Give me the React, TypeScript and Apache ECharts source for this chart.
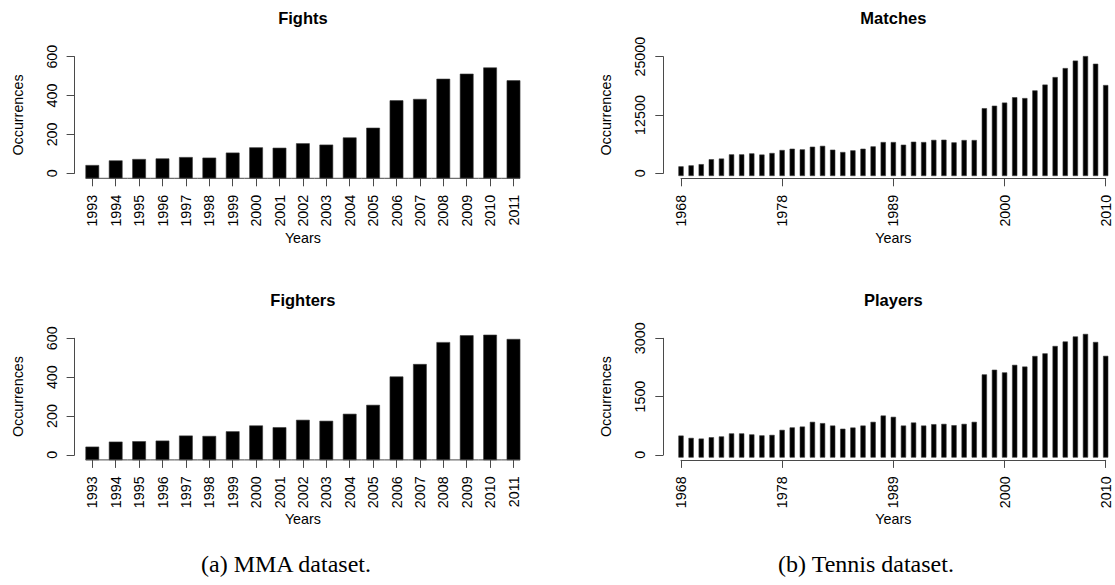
import React, { useEffect, useRef } from "react";
import * as echarts from "echarts";

// ---------- data ----------
const mmaYears = ["1993", "1994", "1995", "1996", "1997", "1998", "1999", "2000", "2001", "2002",
  "2003", "2004", "2005", "2006", "2007", "2008", "2009", "2010", "2011"];
const fights = [41, 65, 72, 75, 82, 79, 105, 132, 130, 153, 146, 183, 233, 374, 381, 485, 511, 543, 477];
const fighters = [41, 67, 69, 72, 98, 96, 120, 150, 141, 179, 174, 210, 256, 402, 466, 579, 614, 617, 595];
const mmaYTicks = [0, 200, 400, 600];

const tennisYears = ["1968", "1969", "1970", "1971", "1972", "1973", "1974", "1975", "1976", "1977",
  "1978", "1979", "1980", "1981", "1982", "1983", "1984", "1985", "1986", "1987",
  "1988", "1989", "1990", "1991", "1992", "1993", "1994", "1995", "1996", "1997",
  "1998", "1999", "2000", "2001", "2002", "2003", "2004", "2005", "2006", "2007",
  "2008", "2009", "2010"];
const tennisTickYears = ["1968", "1978", "1989", "2000", "2010"];
const matches = [1430, 1640, 1900, 2960, 3100, 4000, 4000, 4210, 3960, 4290,
  4930, 5210, 5070, 5640, 5820, 5000, 4500, 4860, 5210, 5710,
  6640, 6640, 6070, 6710, 6640, 7100, 7140, 6570, 7070, 7070,
  13900, 14430, 15100, 16250, 16070, 17710, 18960, 20570, 22500, 24100,
  25070, 23430, 18860];
const matchesYTicks = [0, 12500, 25000];
const players = [490, 430, 413, 447, 468, 546, 546, 520, 495, 507,
  636, 700, 722, 843, 810, 748, 666, 697, 748, 843,
  1006, 972, 748, 826, 748, 783, 791, 757, 791, 843,
  2064, 2184, 2115, 2309, 2266, 2537, 2605, 2795, 2911, 3040,
  3105, 2898, 2541];
const playersYTicks = [0, 1500, 3000];

const titles = ["Fights", "Fighters", "Matches", "Players"];
const captions = ["(a) MMA dataset.", "(b) Tennis dataset."];
const xName = "Years";
const yName = "Occurrences";

// ---------- style ----------
const FONT = "'Liberation Sans', Arial, Helvetica, sans-serif";
const SERIF = "'Liberation Serif', 'Times New Roman', serif";
const AXIS = "#4a4a4a";
const TICK_FS = 14.3;
const PLOT_H = 116.6;
const ROW_TOPS = [56.7, 338.3];

type Panel = {
  title: string;
  cats: string[];
  values: number[];
  yTicks: number[];
  tickCats: string[] | null;
  left: number;
  width: number;
  top: number;
  barRatio: number;
  drop: number;
  yOffset: number;
  boundaryGap: boolean;
  baseLine: boolean;
};

const mmaGeom = { left: 80.6, width: 444.6, barRatio: 0.56, drop: 5, yOffset: 6, boundaryGap: true, baseLine: true };
const tenGeom = { left: 681, width: 424.7, barRatio: 0.46, drop: 2.4, yOffset: 17.7, boundaryGap: false, baseLine: false };

const panels: Panel[] = [
  { title: titles[0], cats: mmaYears, values: fights, yTicks: mmaYTicks, tickCats: null, top: ROW_TOPS[0], ...mmaGeom },
  { title: titles[1], cats: mmaYears, values: fighters, yTicks: mmaYTicks, tickCats: null, top: ROW_TOPS[1], ...mmaGeom },
  { title: titles[2], cats: tennisYears, values: matches, yTicks: matchesYTicks, tickCats: tennisTickYears, top: ROW_TOPS[0], ...tenGeom },
  { title: titles[3], cats: tennisYears, values: players, yTicks: playersYTicks, tickCats: tennisTickYears, top: ROW_TOPS[1], ...tenGeom },
];

function buildOption(): any {
  const labelText = { fontSize: TICK_FS, color: "#000", fontFamily: FONT };
  return {
    animation: false,
    backgroundColor: "#ffffff",
    grid: panels.map((p) => ({ left: p.left, top: p.top, width: p.width, height: PLOT_H, containLabel: false })),
    xAxis: panels.map((p, i) => {
      const interval = p.tickCats
        ? (_idx: number, val: string) => (p.tickCats as string[]).includes(val)
        : 0;
      return {
        type: "category",
        gridIndex: i,
        data: p.cats,
        boundaryGap: p.boundaryGap,
        offset: 5,
        axisLine: { show: !p.baseLine, onZero: false, lineStyle: { color: AXIS, width: 1 } },
        axisTick: { show: true, length: 8, alignWithLabel: true, interval, lineStyle: { color: AXIS, width: 1 } },
        axisLabel: { rotate: 90, margin: 16.5, interval, ...labelText },
        splitLine: { show: false },
        name: xName,
        nameLocation: "middle",
        nameGap: 51,
        nameTextStyle: { ...labelText },
      };
    }),
    yAxis: panels.map((p, i) => ({
      type: "value",
      gridIndex: i,
      position: "left",
      min: p.yTicks[0],
      max: p.yTicks[p.yTicks.length - 1],
      interval: p.yTicks[1] - p.yTicks[0],
      offset: p.yOffset,
      axisLine: { show: true, onZero: false, lineStyle: { color: AXIS, width: 1 } },
      axisTick: { show: true, length: 8, lineStyle: { color: AXIS, width: 1 } },
      axisLabel: { rotate: 90, margin: 16, formatter: (v: number) => String(v), ...labelText },
      splitLine: { show: false },
      name: yName,
      nameLocation: "middle",
      nameGap: 50,
      nameTextStyle: { ...labelText },
    })),
    series: panels.map((p, i) => ({
      type: "custom",
      xAxisIndex: i,
      yAxisIndex: i,
      clip: false,
      silent: true,
      data: p.values.map((v, j) => [j, v]),
      encode: { x: 0, y: 1 },
      renderItem: (_params: any, api: any) => {
        const j = api.value(0) as number;
        const v = api.value(1) as number;
        const top = api.coord([j, v]);
        const zero = api.coord([j, 0]);
        const band = (api.size([1, 0]) as number[])[0];
        const bw = band * p.barRatio;
        const bottom = zero[1] + p.drop;
        const children: any[] = [
          {
            type: "rect",
            shape: { x: top[0] - bw / 2, y: top[1], width: bw, height: bottom - top[1] },
            style: { fill: "#000", stroke: "#3a3a3a", lineWidth: 0.6 },
          },
        ];
        if (p.baseLine) {
          const last = p.values.length - 1;
          const x0 = j === 0 ? top[0] - bw / 2 : top[0] - band / 2;
          const x1 = j === last ? top[0] + bw / 2 : top[0] + band / 2;
          children.push({
            type: "line",
            shape: { x1: x0, y1: bottom, x2: x1, y2: bottom },
            style: { stroke: AXIS, lineWidth: 1 },
          });
        }
        return { type: "group", children };
      },
    })),
    graphic: [
      ...panels.map((p) => ({
        type: "text",
        x: p.left + p.width / 2,
        y: p.top - 38.3,
        silent: true,
        style: {
          text: p.title,
          fontSize: 16.5,
          fontWeight: "bold",
          fontFamily: FONT,
          fill: "#000",
          align: "center",
          verticalAlign: "middle",
          textAlign: "center",
          textVerticalAlign: "middle",
        },
      })),
      ...captions.map((c, k) => ({
        type: "text",
        x: k === 0 ? 286 : 866,
        y: 564,
        silent: true,
        style: {
          text: c,
          fontSize: 24,
          fontFamily: SERIF,
          fill: "#000",
          align: "center",
          verticalAlign: "middle",
          textAlign: "center",
          textVerticalAlign: "middle",
        },
      })),
    ],
  };
}

export default function App() {
  const ref = useRef<HTMLDivElement>(null);
  useEffect(() => {
    if (!ref.current) return;
    const chart = echarts.init(ref.current, undefined, { renderer: "svg" });
    chart.setOption(buildOption());
    return () => chart.dispose();
  }, []);
  return (
    <div
      ref={ref}
      style={{ position: "absolute", left: 0, top: 0, width: 1115, height: 585, background: "#fff" }}
    />
  );
}
